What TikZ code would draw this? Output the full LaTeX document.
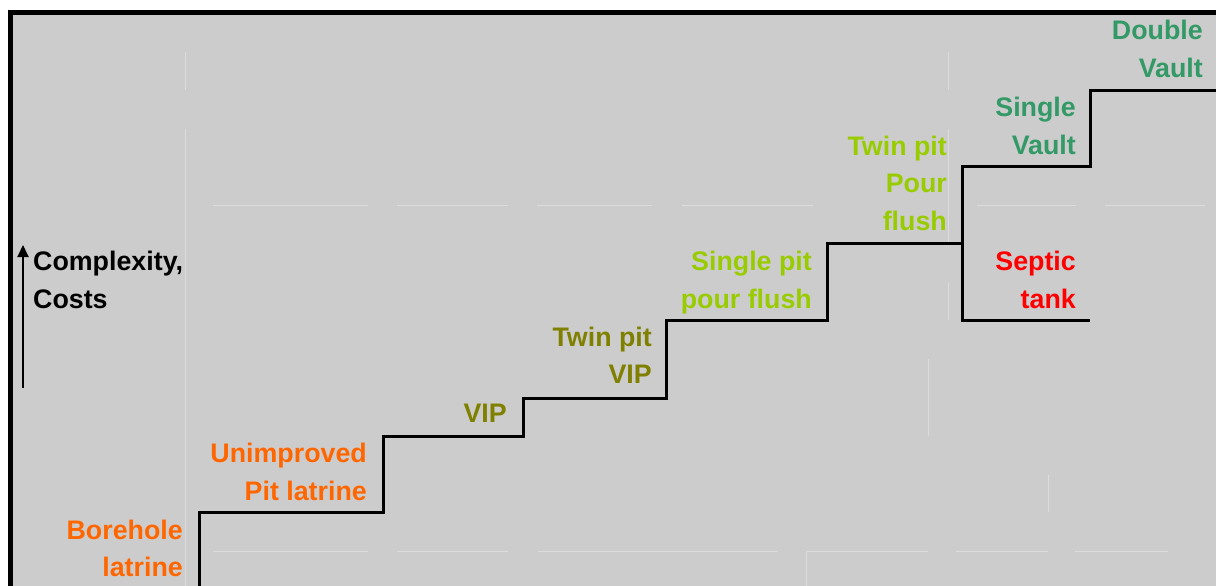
\documentclass[tikz,border=0pt]{standalone}
\usepackage{fontspec}
\setmainfont{Liberation Sans}
\usetikzlibrary{arrows.meta}
\definecolor{bg}{HTML}{CCCCCC}
\definecolor{gridc}{HTML}{DCDCDC}
\definecolor{corange}{HTML}{FF6600}
\definecolor{colive}{HTML}{808000}
\definecolor{clime}{HTML}{99CC00}
\definecolor{cgreen}{HTML}{339966}
\definecolor{cred}{HTML}{FF0000}
\begin{document}
\begin{tikzpicture}[x=1pt,y=-1pt,
  lbl/.style={font=\fontsize{26.8}{37.5}\selectfont\bfseries, align=right, anchor=east, inner sep=0pt},
  lbll/.style={font=\fontsize{26.8}{37.5}\selectfont\bfseries, align=left, anchor=west, inner sep=0pt},
  stair/.style={line width=3pt, line join=miter},
  faint/.style={draw=gridc, line width=1pt}]
\useasboundingbox (0,0) rectangle (1216,586);
\fill[white] (0,0) rectangle (1216,586);
\fill[bg] (13,15) rectangle (1216,586);
% faint table lines
\draw[faint] (185,52) -- (185,90) (185,129) -- (185,586);
\draw[faint] (948,52) -- (948,90) (948,129) -- (948,243) (948,283) -- (948,320);
\draw[faint] (928,359) -- (928,436);
\draw[faint] (1048,475) -- (1048,512);
\draw[faint] (806,551) -- (806,586);
\draw[faint] (213,205) -- (368,205) (397,205) -- (508,205) (537,205) -- (652,205)
  (682,205) -- (813,205) (977,205) -- (1076,205) (1105,205) -- (1205,205);
\draw[faint] (213,551) -- (368,551) (397,551) -- (508,551) (538,551) -- (778,551)
  (806,551) -- (928,551) (956,551) -- (1048,551) (1075,551) -- (1168,551);
% border
\fill[black] (8,10) rectangle (1216,15);
\fill[black] (8,10) rectangle (13,586);
% axis arrow
\coordinate (abot) at (23,388);
\coordinate (atop) at (23,245);
\draw[line width=2pt, -{Triangle[length=12pt,width=11pt]}] (abot) -- (atop);
\node[lbll] (axis) at (33,282) {\strut Complexity,\\\strut Costs};
% staircase
\draw[stair] (199,586) |- (383,512) |- (523,436) |- (666,398) |- (827,320)
  |- (962,243) |- (1090,166) |- (1216,91);
\draw[stair] (962,243) |- (1090,320);
% labels
\node[lbl, text=corange] (bore) at (183,550.5) {\strut Borehole\\\strut latrine};
\node[lbl, text=corange] (unimp) at (367,474) {\strut Unimproved\\\strut Pit latrine};
\node[lbl, text=colive] (vip) at (507,415) {\strut VIP};
\node[lbl, text=colive] (twinvip) at (652,357.5) {\strut Twin pit\\\strut VIP};
\node[lbl, text=clime] (singlepf) at (812,282) {\strut Single pit\\\strut pour flush};
\node[lbl, text=clime] (twinpf) at (947,185) {\strut Twin pit\\\strut Pour\\\strut flush};
\node[lbl, text=cred] (septic) at (1076,282) {\strut Septic\\\strut tank};
\node[lbl, text=cgreen] (singlev) at (1076,128) {\strut Single\\\strut Vault};
\node[lbl, text=cgreen] (doublev) at (1203,51) {\strut Double\\\strut Vault};
\end{tikzpicture}
\end{document}
